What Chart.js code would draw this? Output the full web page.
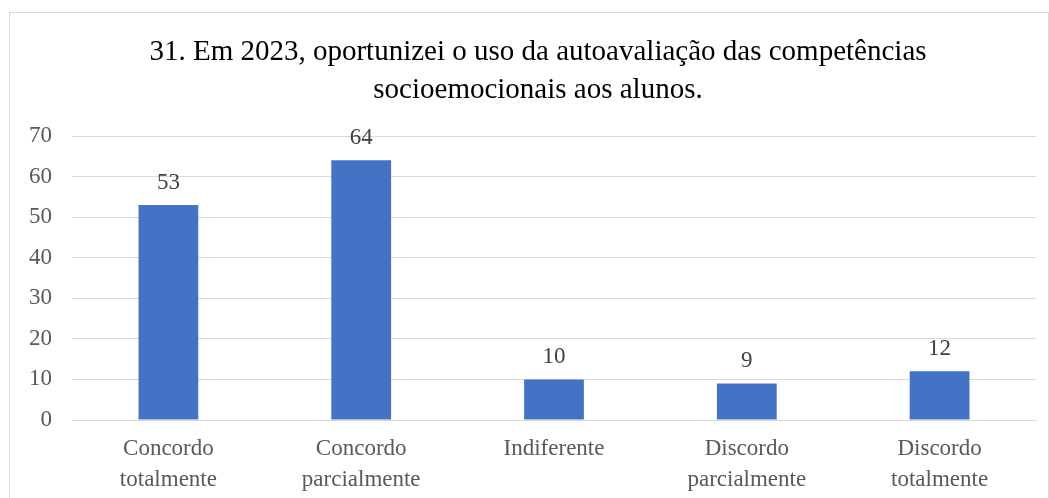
<!DOCTYPE html>
<html lang="pt">
<head>
  <meta charset="UTF-8" />
  <title>Autoavaliação</title>
  <script src="https://cdn.jsdelivr.net/npm/chart.js"></script>
  <style>
    body { margin: 0; background: #ffffff; }
    #box {
      position: absolute;
      left: 9px; top: 12px;
      width: 1038px; height: 490px;
      border: 1px solid #d9d9d9;
      background: #ffffff;
    }
  </style>
</head>
<body>
  <div id="box"><canvas id="chart"></canvas></div>

  <script>
  const categories = [
    ["Concordo", "totalmente"],
    ["Concordo", "parcialmente"],
    "Indiferente",
    ["Discordo", "parcialmente"],
    ["Discordo", "totalmente"]
  ];
  const values = [53, 64, 10, 9, 12];
  const yTicks = [0, 10, 20, 30, 40, 50, 60, 70];
  const titleLines = [
    '31. Em 2023, oportunizei o uso da autoavaliação das competências',
    'socioemocionais aos alunos.'
  ];

  const serif = "'Liberation Serif', 'Times New Roman', serif";

  // title is drawn by hand so it can sit a little off the canvas centre, as in the original
  const chartTitle = {
    id: 'chartTitle',
    afterDraw(chart) {
      const ctx = chart.ctx;
      ctx.save();
      ctx.font = '29px ' + serif;
      ctx.fillStyle = '#000000';
      ctx.textAlign = 'center';
      ctx.textBaseline = 'alphabetic';
      titleLines.forEach((line, i) => {
        ctx.fillText(line, 528, 47 + i * 38);
      });
      ctx.restore();
    }
  };

  // draws the number above each bar
  const barLabels = {
    id: 'barLabels',
    afterDatasetsDraw(chart) {
      const ctx = chart.ctx;
      const meta = chart.getDatasetMeta(0);
      ctx.save();
      ctx.font = '23px ' + serif;
      ctx.fillStyle = '#404040';
      ctx.textAlign = 'center';
      ctx.textBaseline = 'bottom';
      meta.data.forEach((bar, i) => {
        ctx.fillText(values[i], bar.x, bar.y - 11);
      });
      ctx.restore();
    }
  };

  new Chart(document.getElementById('chart'), {
    type: 'bar',
    data: {
      labels: categories,
      datasets: [{
        data: values,
        backgroundColor: '#4472c4',
        barPercentage: 0.62,
        categoryPercentage: 0.5
      }]
    },
    options: {
      responsive: true,
      maintainAspectRatio: false,
      animation: false,
      layout: { padding: { left: 8, right: 12, top: 123, bottom: 0 } },
      plugins: {
        legend: { display: false },
        tooltip: { enabled: false },
        title: { display: false }
      },
      scales: {
        x: {
          afterFit(axis) { axis.height = 83; },
          grid: { display: false },
          border: { color: '#d9d9d9' },
          ticks: {
            color: '#595959',
            font: { family: serif, size: 23, lineHeight: 1.35 },
            maxRotation: 0,
            padding: 5
          }
        },
        y: {
          min: 0,
          max: 70,
          afterBuildTicks(axis) {
            axis.ticks = yTicks.map(v => ({ value: v }));
          },
          afterFit(axis) { axis.width = 54; },
          grid: { color: '#d9d9d9', drawTicks: false },
          border: { display: false },
          ticks: {
            color: '#595959',
            font: { family: serif, size: 23 },
            padding: 20
          }
        }
      }
    },
    plugins: [barLabels, chartTitle]
  });
  </script>
</body>
</html>
